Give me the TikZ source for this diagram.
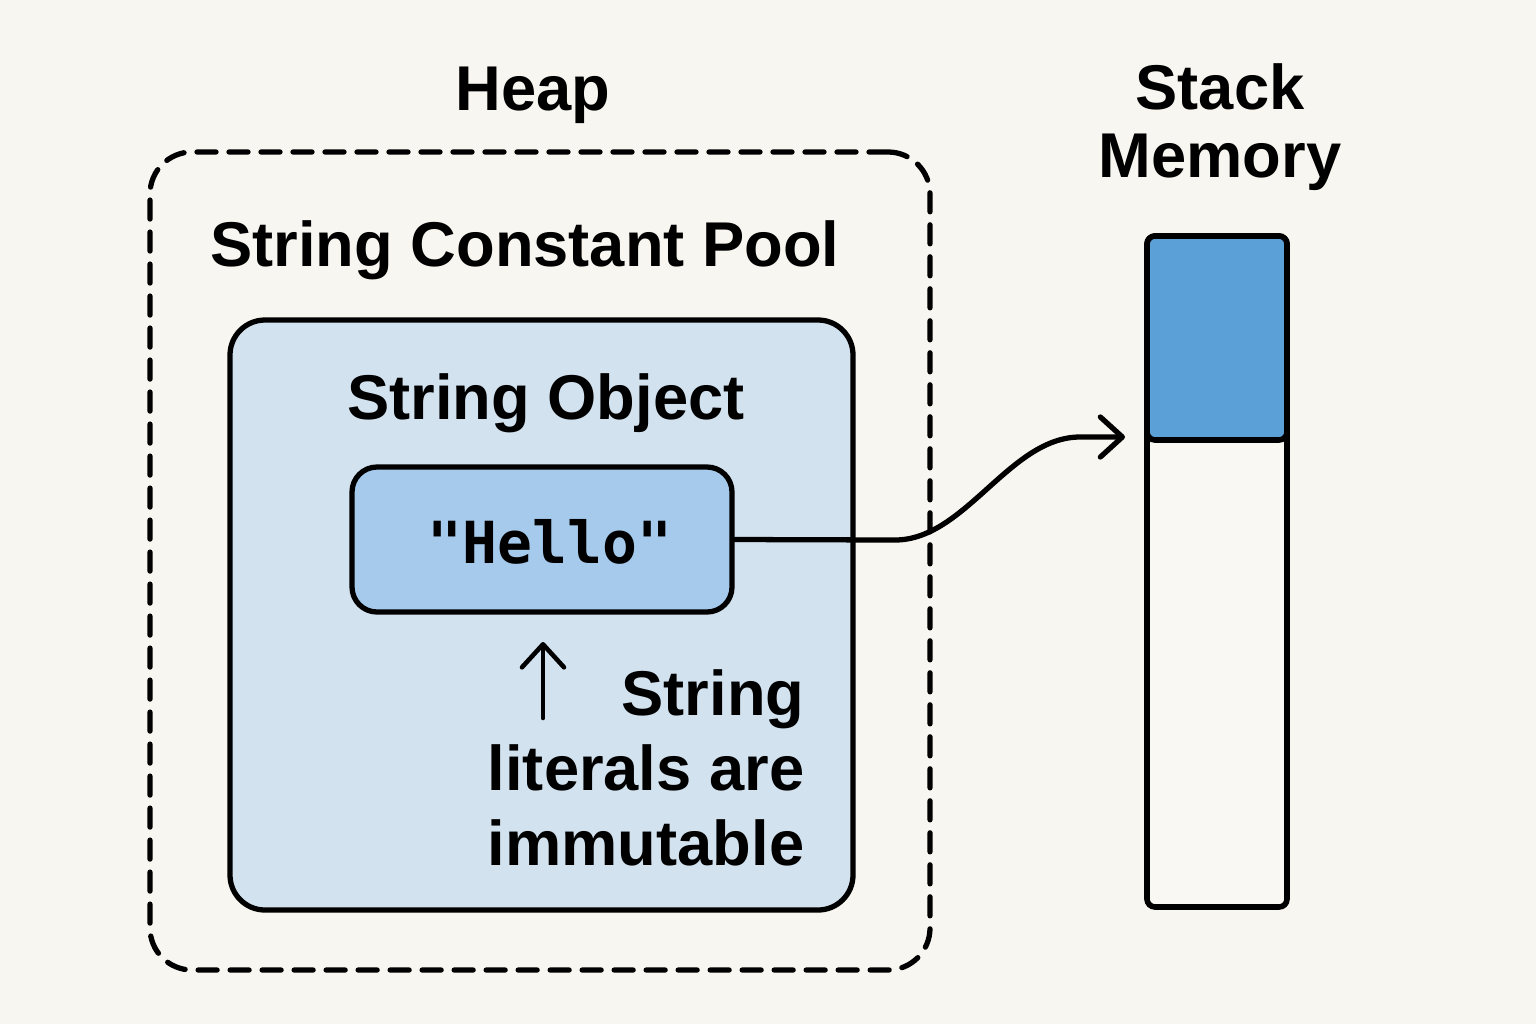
\documentclass[tikz,border=0pt]{standalone}
\usepackage{fontspec}
\setmainfont{Liberation Sans}
\newfontfamily\codefont{DejaVu Sans Mono}
\usetikzlibrary{positioning,arrows.meta}
\definecolor{paper}{HTML}{F8F6F0}
\definecolor{objblue}{HTML}{D3E2EF}
\definecolor{helloblue}{HTML}{A5CAEC}
\definecolor{slotblue}{HTML}{5CA0D8}
\definecolor{slotwhite}{HTML}{FAF8F3}
\tikzset{
  heading/.style={inner sep=0pt, font=\bfseries\fontsize{18}{19.3}\selectfont},
  notetext/.style={inner sep=0pt, align=right, font=\bfseries\fontsize{18}{21.3}\selectfont},
  thickbox/.style={draw=black, line width=1.5pt, inner sep=0pt},
  barb/.style={-{Straight Barb[length=2.2mm,width=4mm,round]}, line width=1.5pt, line cap=round}
}

\begin{document}
\begin{tikzpicture}

	\fill[paper] (0,0) rectangle (15.36,-10.24);
	\useasboundingbox (0,0) rectangle (15.36,-10.24);

	% heap side
	\node[heading, anchor=base] (heaptitle) at (5.33,-1.10) {Heap};

	\node[draw=black, line width=1.5pt, dash pattern=on 0.19cm off 0.13cm, line cap=round,
		rounded corners=0.42cm, minimum width=7.80cm, minimum height=8.18cm,
		inner sep=0pt] (pool) at (5.40,-5.61) {};

	\node[heading, anchor=base] (pooltitle) at (5.25,-2.66) {String Constant Pool};

	\node[thickbox, fill=objblue, rounded corners=0.35cm,
		minimum width=6.23cm, minimum height=5.90cm] (object) at (5.415,-6.15) {};

	\node[heading, anchor=base] (objtitle) at (5.46,-4.19) {String Object};

	\node[thickbox, fill=helloblue, rounded corners=0.25cm,
		minimum width=3.80cm, minimum height=1.45cm] (hello) at (5.42,-5.395) {};

	\node[inner sep=0pt, anchor=base, font=\codefont\bfseries\fontsize{16.5}{18}\selectfont]
		(hellotext) at (5.50,-5.63) {"Hello"};

	\coordinate (upfoot) at (5.43,-7.18);
	\coordinate (uptip) at (5.43,-6.42);
	\draw[-{Straight Barb[length=2.3mm,width=4.2mm,round]}, line width=1.3pt, line cap=round] (upfoot) -- (uptip);

	\node[notetext, anchor=east] (note) at (8.05,-7.68) {String\\literals are\\immutable};

	% stack side
	\node[heading, align=center] (stacktitle) at (12.20,-1.27) {Stack\\Memory};

	\node[draw=black, line width=1.6pt, fill=slotwhite, rounded corners=0.08cm,
		minimum width=1.40cm, minimum height=6.71cm, inner sep=0pt] (stack) at (12.17,-5.715) {};

	\node[draw=black, line width=1.6pt, fill=slotblue, rounded corners=0.08cm,
		minimum width=1.40cm, minimum height=2.04cm, inner sep=0pt, anchor=north] (slot) at (stack.north) {};

	% reference from the literal to the stack slot
	\coordinate (bend) at (8.95,-5.40);
	\coordinate (level) at (10.80,-4.37);
	\coordinate (tip) at (11.25,-4.37);
	\draw[barb] (hello.east) -- (bend) to[out=0, in=180, looseness=0.85] (level) -- (tip);

\end{tikzpicture}
\end{document}
